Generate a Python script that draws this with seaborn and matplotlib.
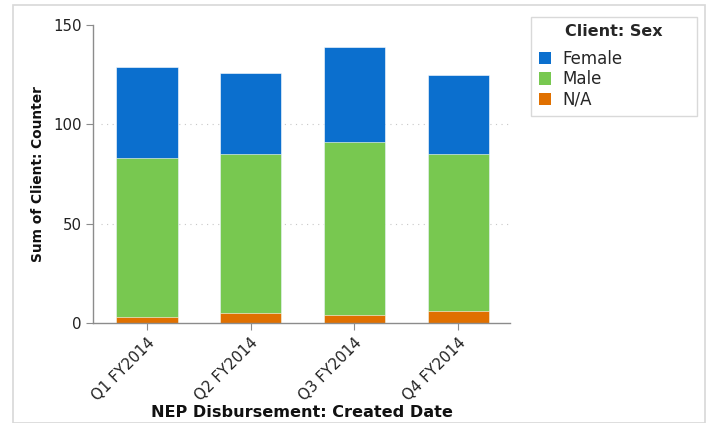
import matplotlib
matplotlib.use("Agg")
import matplotlib.pyplot as plt
import seaborn as sns
import pandas as pd
from matplotlib.patches import Patch, Rectangle

quarters = ["Q1 FY2014", "Q2 FY2014", "Q3 FY2014", "Q4 FY2014"]
female = [46, 41, 48, 40]
male = [80, 80, 87, 79]
na = [3, 5, 4, 6]

colors = {"Female": "#0b6fce", "Male": "#78c850", "N/A": "#e07000"}

df = pd.DataFrame({"quarter": quarters, "Female": female, "Male": male, "N/A": na})
# layered totals for stacking
df["top_female"] = df["N/A"] + df["Male"] + df["Female"]
df["top_male"] = df["N/A"] + df["Male"]
df["top_na"] = df["N/A"]

sns.set_style("white")
plt.rcParams["font.family"] = ["DejaVu Sans"]

fig = plt.figure(figsize=(7.14, 4.23), dpi=100)
ax = fig.add_axes([93 / 714, 1 - 323 / 423, (510 - 93) / 714, (323 - 25) / 423])

for col, name in [("top_female", "Female"), ("top_male", "Male"), ("top_na", "N/A")]:
    sns.barplot(data=df, x="quarter", y=col, color=colors[name], width=0.59,
                saturation=1, ax=ax, edgecolor="white", linewidth=0.4)

ax.set_xlim(-0.52, 3.5)
ax.set_ylim(0, 150)
ax.set_yticks([0, 50, 100, 150])
for yv in [50, 100]:
    ax.axhline(yv, color="#c8c8c8", linestyle=(0, (1, 4)), linewidth=0.8, zorder=0,
               xmin=0.02)

for s in ["top", "right"]:
    ax.spines[s].set_visible(False)
for s in ["left", "bottom"]:
    ax.spines[s].set_color("#8c8c8c")
    ax.spines[s].set_linewidth(1.0)

ax.tick_params(axis="both", which="both", direction="out", length=5, width=0.8,
               color="#8c8c8c", labelsize=10.8, labelcolor="#222222")
ax.tick_params(axis="y", left=True, pad=3)
ax.tick_params(axis="x", bottom=True)
plt.setp(ax.get_xticklabels(), rotation=45, ha="right", rotation_mode="anchor")

ax.set_xlabel("NEP Disbursement: Created Date", fontsize=11.6, fontweight="bold",
              color="#111111", labelpad=1)
ax.set_ylabel("Sum of Client: Counter", fontsize=9.9, fontweight="bold",
              color="#111111", labelpad=6)

handles = [Patch(facecolor=colors[k], edgecolor="none") for k in ["Female", "Male", "N/A"]]
leg = fig.legend(handles, ["Female", "Male", "N/A"], title="Client: Sex",
                 loc="upper left",
                 bbox_to_anchor=(531 / 714, 1 - 118 / 423, 166 / 714, 101 / 423),
                 mode="expand", borderaxespad=0,
                 fontsize=12, title_fontsize=11.5, frameon=True, fancybox=False,
                 handlelength=0.75, handleheight=0.75, handletextpad=0.7,
                 borderpad=0.45, labelspacing=0.15, alignment="center")
leg.get_title().set_fontweight("bold")
# a bit more room between legend title and entries
leg._legend_box.sep = 7.5
frame = leg.get_frame()
frame.set_edgecolor("#d0d0d0")
frame.set_linewidth(1.0)

fig.patches.append(Rectangle((13 / 714, 0), (705 - 13) / 714, 1 - 5 / 423,
                             transform=fig.transFigure, fill=False,
                             edgecolor="#d8d8d8", linewidth=1.2))

fig.savefig("out.png", dpi=100)
